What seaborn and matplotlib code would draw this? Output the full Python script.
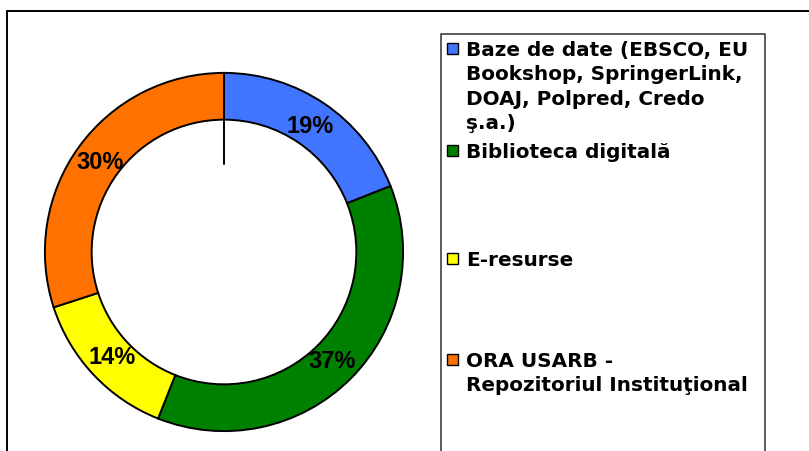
import matplotlib
matplotlib.use("Agg")
import matplotlib.pyplot as plt
import seaborn as sns
from matplotlib.patches import Rectangle

# data
labels = [
    ["Baze de date (EBSCO, EU", "Bookshop, SpringerLink,", "DOAJ, Polpred, Credo", "ş.a.)"],
    ["Biblioteca digitală"],
    ["E-resurse"],
    ["ORA USARB -", "Repozitoriul Instituţional"],
]
shares = [19, 37, 14, 30]
colors = ["#4174FF", "#008000", "#FFFF00", "#FF7200"]

sns.set_theme(style="white")
plt.rcParams["font.family"] = ["Liberation Sans", "DejaVu Sans"]

fig = plt.figure(figsize=(8.09, 4.52), dpi=100)
fig.patch.set_facecolor("white")

# donut
ax = fig.add_axes([44 / 809, (452 - 253 - 180) / 452, 360 / 809, 360 / 452])
wedges, texts, autotexts = ax.pie(
    shares, colors=colors, startangle=90, counterclock=False,
    autopct=lambda p: f"{p:.0f}%", pctdistance=0.856,
    wedgeprops=dict(width=47 / 180, edgecolor="black", linewidth=1.4),
    textprops=dict(fontsize=17, fontweight="bold", color="black"),
)
ax.plot([0, 0], [133 / 180, 88 / 180], color="black", lw=1.4)
ax.set_xlim(-1.005, 1.005)
ax.set_ylim(-1.005, 1.005)
ax.set_aspect("equal")
ax.axis("off")

# frame + legend (pixel coords)
ov = fig.add_axes([0, 0, 1, 1], zorder=3)
ov.set_xlim(0, 809)
ov.set_ylim(452, 0)
ov.axis("off")
ov.patch.set_alpha(0)
ov.plot([7, 809], [12, 12], color="black", lw=1.4, clip_on=False)
ov.plot([7, 7], [12, 452], color="black", lw=1.4, clip_on=False)
ov.plot([441, 441, 765, 765], [452, 35, 35, 452], color="#303030", lw=1.1, clip_on=False)

first_baselines = [56, 158, 266, 367]
for lines, col, y0 in zip(labels, colors, first_baselines):
    ov.add_patch(Rectangle((447, y0 - 12), 11, 11, facecolor=col, edgecolor="black", lw=1))
    for i, line in enumerate(lines):
        ov.text(466, y0 + i * 24.5, line, fontsize=14.4, fontweight="bold",
                family=["DejaVu Sans"], va="baseline", ha="left", color="black")

fig.savefig("out.png", dpi=100)
